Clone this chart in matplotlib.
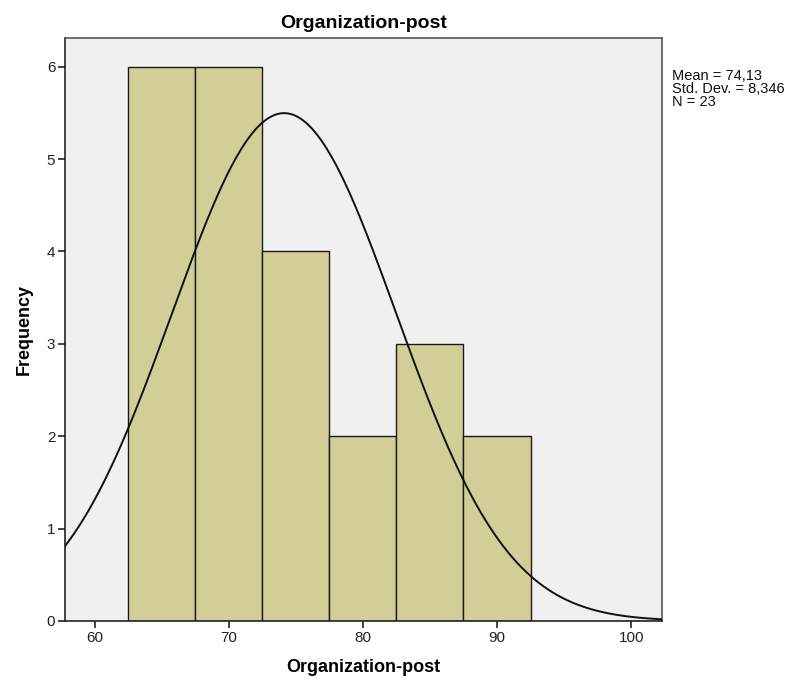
import matplotlib.pyplot as plt
import numpy as np

# histogram bins (bin edges) and counts
bin_edges = [62.5, 67.5, 72.5, 77.5, 82.5, 87.5, 92.5]
counts = [6, 6, 4, 2, 3, 2]

mean = 74.13
std_dev = 8.346
n_obs = 23

x_ticks = [60, 70, 80, 90, 100]
y_ticks = [0, 1, 2, 3, 4, 5, 6]

plt.rcParams['font.family'] = ['Liberation Sans', 'DejaVu Sans']

fig = plt.figure(figsize=(7.95, 6.9), dpi=100)
ax = fig.add_axes([0.0818, 0.1, 0.7509, 0.8449])
ax.set_facecolor('#f0f0f0')

widths = np.diff(bin_edges)
ax.bar(bin_edges[:-1], counts, width=widths, align='edge',
       color='#d3ce97', edgecolor='#1a1a1a', linewidth=1.0, zorder=2)

xlo, xhi = 57.8, 102.3
xs = np.linspace(xlo, xhi, 400)
bw = widths[0]
ys = n_obs * bw / (std_dev * np.sqrt(2 * np.pi)) * np.exp(-0.5 * ((xs - mean) / std_dev) ** 2)
ax.plot(xs, ys, color='#111111', linewidth=1.4, zorder=3)

ax.set_xlim(xlo, xhi)
ax.set_ylim(0, 6.31)
ax.set_xticks(x_ticks)
ax.set_yticks(y_ticks)
ax.tick_params(axis='both', direction='out', length=5, width=1.2,
               labelsize=11, colors='#222222')
ax.tick_params(axis='x', pad=2)
ax.tick_params(axis='y', pad=2)

for sp in ax.spines.values():
    sp.set_color('#555555')
    sp.set_linewidth(1.2)
ax.spines['left'].set_color('#222222')
ax.spines['bottom'].set_color('#222222')

ax.set_title('Organization-post', fontsize=14, fontweight='bold', pad=7)
ax.set_xlabel('Organization-post', fontsize=13, fontweight='bold', labelpad=10)
ax.set_ylabel('Frequency', fontsize=13, fontweight='bold', labelpad=10)

stats = "Mean = 74,13\nStd. Dev. = 8,346\nN = 23"
fig.text(672 / 795, 1 - 69 / 690, stats, fontsize=10.5, va='top', ha='left',
         linespacing=0.93, color='#111111')

fig.savefig('out.png', dpi=100)
